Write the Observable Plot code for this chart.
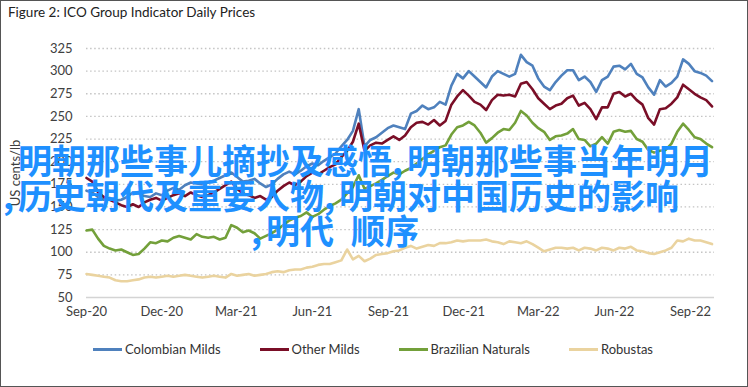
<!DOCTYPE html>
<html><head><meta charset="utf-8">
<script src="https://cdn.jsdelivr.net/npm/d3@7"></script>
<script src="https://cdn.jsdelivr.net/npm/@observablehq/plot@0.6"></script>
<style>
html,body{margin:0;padding:0;background:#fff;}
#wrap{position:relative;width:748px;height:387px;overflow:hidden;font-family:Lato,"Open Sans",sans-serif;background:#fff;}
#frame{position:absolute;left:0;top:0;width:748px;height:387px;box-sizing:border-box;border:1px solid #555;pointer-events:none;}
#title{position:absolute;left:8px;top:4px;font-size:13.5px;color:#222;white-space:nowrap;}
#chart{position:absolute;left:0;top:0;}
#ylabel{position:absolute;left:15px;top:173px;transform:translate(-50%,-50%) rotate(-90deg);font-size:13px;color:#404040;white-space:nowrap;}
#legend{position:absolute;left:93px;top:341px;display:flex;gap:39px;font-size:13px;color:#333;}
.item{display:flex;align-items:center;white-space:nowrap;}
.sw{width:29px;height:3px;margin-right:3px;}
.ov{position:absolute;font-family:"Noto Sans CJK SC",sans-serif;font-weight:bold;font-size:34px;line-height:34px;color:#1E90FF;white-space:pre;}
.ov .c{display:inline-block;width:15px;}
.ov .s{display:inline-block;width:17px;}
</style>
</head><body>
<div id="wrap">
  <div id="chart"></div>
  <div id="title">Figure 2: ICO Group Indicator Daily Prices</div>
  <div id="ylabel">US cents/lb</div>
  <div id="legend"></div>
  <div id="frame"></div>
</div>
<script>
// ---- data (weekly readings, US cents/lb) ----
const startDate = "2020-09-01";
const stepDays = 7;
const seriesNames = ["Colombian Milds", "Other Milds", "Brazilian Naturals", "Robustas"];
const seriesColors = ["#4F81BD", "#7A0E27", "#73A03A", "#EAD39F"];

const colombianMilds = [168,166,161,158,160,157,158,161,166,165,
162,161,165,163,168,171,169,174,177,176,
175,177,179,182,185,188,183,178,179,181,
176,172,175,181,186,189,186,190,195,198,
196,201,205,209,217,224,234,258,217,224,
227,232,237,240,238,236,253,256,262,258,
260,266,263,284,297,292,300,294,288,282,
294,300,297,294,297,318,310,306,292,283,
279,288,295,301,301,290,294,288,277,290,
294,305,306,302,308,297,293,282,274,290,
283,287,294,313,308,300,298,295,289];

const otherMilds = [182,178,166,161,158,155,152,150,153,150,
155,158,160,157,160,163,165,162,166,163,
161,163,166,170,174,178,170,165,163,160,
162,158,161,168,173,177,174,178,184,188,
186,190,194,197,205,212,222,242,212,218,
221,220,224,228,224,229,238,243,244,241,
246,240,245,263,272,279,273,266,263,257,
268,274,273,274,272,286,288,280,270,264,
258,262,264,270,273,262,265,258,247,260,
260,275,277,272,275,268,263,248,241,258,
259,264,271,285,280,275,271,268,261];

const brazilianNaturals = [124,125,115,107,104,102,103,100,97,98,
104,111,110,113,112,116,118,116,114,120,
117,116,117,114,116,130,127,122,124,121,
115,118,121,125,130,135,138,140,144,139,
142,147,151,154,158,165,172,185,170,173,
176,180,184,188,186,190,193,198,203,208,
212,216,218,230,238,240,244,240,232,221,
226,232,236,235,243,256,251,243,237,233,
224,228,229,231,236,225,224,217,220,227,
220,233,235,233,234,225,222,213,210,212,
213,220,233,242,235,227,225,220,216];

const robustas = [76,75,74,73,72,69,68,68,69,70,
72,73,72,73,74,73,74,75,74,73,
72,73,74,73,72,76,74,75,76,74,
75,76,78,79,78,80,81,81,83,84,
86,87,87,89,91,103,92,96,90,93,
97,98,99,101,102,105,107,104,106,108,
107,110,110,111,113,112,113,113,113,114,
112,111,109,112,111,110,112,109,105,101,
103,105,105,104,105,102,105,104,102,105,
104,102,105,104,106,102,101,99,98,100,
102,105,113,112,115,113,113,111,109];

const yTicks = [50,75,100,125,150,175,200,225,250,275,300,325];
const gridValues = [75,100,125,150,175,200,225,250,275,300,325];
const xTickDates = ["2020-09-01","2020-12-01","2021-03-01","2021-06-01","2021-09-01","2021-12-01","2022-03-01","2022-06-01","2022-09-01"];
const xDomain = ["2020-09-01","2022-09-30"];

const overlayLines = [
  "明朝那些事儿摘抄及感悟,明朝那些事当年明月",
  ",历史朝代及重要人物,明朝对中国历史的影响",
  ",明代 顺序"
];

// ---- build rows ----
const start = new Date(startDate + "T00:00:00Z");
const allSeries = [colombianMilds, otherMilds, brazilianNaturals, robustas];
const rows = [];
allSeries.forEach((vals, si) => {
  vals.forEach((v, i) => {
    rows.push({series: seriesNames[si], date: d3.utcDay.offset(start, stepDays * i), value: v});
  });
});

const chart = Plot.plot({
  width: 748,
  height: 387,
  marginLeft: 86,
  marginRight: 34,
  marginTop: 48,
  marginBottom: 90,
  style: {fontFamily: "Lato, sans-serif", fontSize: "13px", color: "#404040", background: "transparent"},
  x: {type: "utc", domain: xDomain.map(d => new Date(d + "T00:00:00Z")), label: null},
  y: {domain: [50, 325], label: null},
  color: {domain: seriesNames, range: seriesColors},
  marks: [
    Plot.ruleY(gridValues, {stroke: "#c4c4c4", strokeWidth: 1.3, strokeDasharray: "1.5,2.6"}),
    Plot.ruleY([50], {stroke: "#d4d4d4", strokeWidth: 1.5}),
    Plot.line(rows, {x: "date", y: "value", z: "series", stroke: "series", strokeWidth: 2.6, strokeLinejoin: "round"}),
    Plot.axisY({ticks: yTicks, tickSize: 0, tickPadding: 14, label: null, fill: "#404040"}),
    Plot.axisX({ticks: xTickDates.map(d => new Date(d + "T00:00:00Z")), tickFormat: d3.utcFormat("%b-%y"), tickSize: 0, tickPadding: 9, label: null, fill: "#404040"})
  ]
});
document.getElementById("chart").appendChild(chart);

// legend
const legend = document.getElementById("legend");
seriesNames.forEach((n, i) => {
  const it = document.createElement("div");
  it.className = "item";
  const sw = document.createElement("div");
  sw.className = "sw";
  sw.style.background = seriesColors[i];
  const tx = document.createElement("span");
  tx.textContent = n;
  it.appendChild(sw); it.appendChild(tx);
  legend.appendChild(it);
});

// overlay text
const ovPos = [[18, 143], [3, 178], [251, 213]];
const wrap = document.getElementById("wrap");
overlayLines.forEach((line, li) => {
  const d = document.createElement("div");
  d.className = "ov";
  d.style.left = ovPos[li][0] + "px";
  d.style.top = ovPos[li][1] + "px";
  for (const ch of line) {
    if (ch === "," || ch === " ") {
      const s = document.createElement("span");
      s.className = ch === "," ? "c" : "s";
      s.textContent = ch;
      d.appendChild(s);
    } else {
      d.appendChild(document.createTextNode(ch));
    }
  }
  wrap.insertBefore(d, document.getElementById("frame"));
});
</script>
</body></html>
